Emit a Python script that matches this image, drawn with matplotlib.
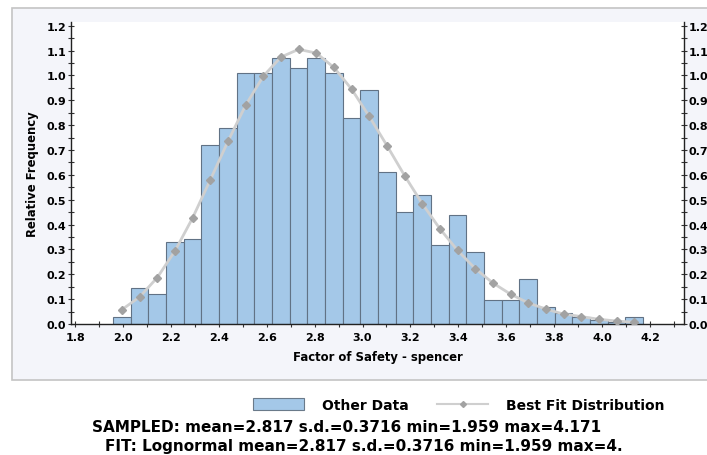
import numpy as np
import matplotlib
matplotlib.use("Agg")
import matplotlib.pyplot as plt
from matplotlib.patches import Rectangle, Patch
from matplotlib.lines import Line2D
from matplotlib.ticker import MultipleLocator, FormatStrFormatter

# histogram: 30 bins between sampled min and max
sample_min = 1.959
sample_max = 4.171
n_bins = 30
rel_freq = [0.03, 0.145, 0.12, 0.33, 0.34, 0.72, 0.79, 1.01, 1.01, 1.07,
            1.03, 1.07, 1.01, 0.83, 0.94, 0.61, 0.45, 0.52, 0.316, 0.44,
            0.29, 0.098, 0.098, 0.18, 0.07, 0.044, 0.028, 0.015, 0.01, 0.028]

# best fit (lognormal) read at the bin centres
fit_vals = [0.058, 0.109, 0.187, 0.294, 0.427, 0.58, 0.735, 0.88, 0.997, 1.074,
            1.105, 1.09, 1.032, 0.945, 0.835, 0.718, 0.597, 0.484, 0.383, 0.296,
            0.223, 0.165, 0.12, 0.085, 0.06, 0.04, 0.03, 0.019, 0.012, 0.007]

xlabel = "Factor of Safety - spencer"
ylabel = "Relative Frequency"
legend_labels = ["Other Data", "Best Fit Distribution"]
sampled_txt = "SAMPLED: mean=2.817 s.d.=0.3716 min=1.959 max=4.171"
fit_txt = "FIT: Lognormal mean=2.817 s.d.=0.3716 min=1.959 max=4."

plt.rcParams["font.family"] = ["DejaVu Sans"]
plt.rcParams["font.weight"] = "bold"

W, H = 707, 456
fig = plt.figure(figsize=(W / 100, H / 100), dpi=100)

# light panel behind the chart
panel = Rectangle((12 / W, 1 - 381 / H), 1.0, (381 - 9) / H, transform=fig.transFigure,
                  facecolor="#f4f5fa", edgecolor="#c4c4c4", lw=1.2, zorder=-5)
fig.patches.append(panel)

ax = fig.add_axes([71 / W, 1 - 325 / H, (684 - 71) / W, (325 - 23) / H])
ax.set_facecolor("white")

edges = np.linspace(sample_min, sample_max, n_bins + 1)
width = edges[1] - edges[0]
centres = edges[:-1] + width / 2

bar_color = "#a4c8e8"
ax.bar(edges[:-1], rel_freq, width=width, align="edge", color=bar_color,
       edgecolor="#617285", linewidth=0.8, zorder=2)
ax.plot(centres, fit_vals, color="#cfcfcf", lw=2, zorder=3)
ax.plot(centres, fit_vals, ls="none", marker="D", ms=4.5, color="#a2a2a2",
        mec="#a2a2a2", zorder=4)

ax.set_xlim(1.783, 4.342)
ax.set_ylim(0, 1.215)

ax.xaxis.set_major_locator(MultipleLocator(0.2))
ax.xaxis.set_minor_locator(MultipleLocator(0.1))
ax.yaxis.set_major_locator(MultipleLocator(0.1))
ax.yaxis.set_minor_locator(MultipleLocator(0.05))
ax.xaxis.set_major_formatter(FormatStrFormatter("%.1f"))
ax.yaxis.set_major_formatter(FormatStrFormatter("%.1f"))

ax.spines["top"].set_visible(False)
for s in ["left", "right", "bottom"]:
    ax.spines[s].set_color("#222222")
    ax.spines[s].set_linewidth(1.0)

ax.tick_params(axis="both", which="both", direction="inout", color="#333333",
               labelsize=8, width=0.8)
ax.tick_params(axis="both", which="major", length=5)
ax.tick_params(axis="both", which="minor", length=4)
ax.tick_params(axis="y", which="both", right=True, labelright=True, pad=1)
ax.tick_params(axis="x", pad=3)

ax.set_xlabel(xlabel, fontsize=8.4, fontweight="bold", labelpad=6)
ax.set_ylabel(ylabel, fontsize=8.4, fontweight="bold", labelpad=5)

handles = [Patch(facecolor=bar_color, edgecolor="#6a7a8a", lw=0.8),
           Line2D([], [], color="#cfcfcf", lw=1.5, marker="D", ms=3,
                  mfc="#a2a2a2", mec="#a2a2a2")]
fig.legend(handles, legend_labels, loc="center", ncol=2, frameon=False,
           bbox_to_anchor=(459 / W, 1 - 406 / H), fontsize=10,
           handlelength=3.7, handleheight=1.0, handletextpad=1.3,
           columnspacing=2.0)

fig.text(347 / W, 1 - 428 / H, sampled_txt, ha="center", va="center",
         fontsize=11, fontweight="bold")
fig.text(364 / W, 1 - 447 / H, fit_txt, ha="center", va="center",
         fontsize=11, fontweight="bold")

fig.savefig("out.png", dpi=100)
